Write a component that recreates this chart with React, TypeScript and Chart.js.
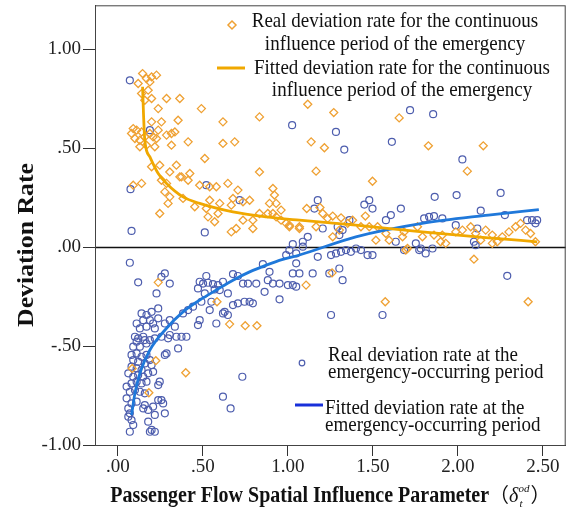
import React, { useEffect, useRef } from "react";
import { Chart, registerables } from "chart.js";

Chart.register(...registerables);

const xTicks = [0, 0.5, 1, 1.5, 2, 2.5];
const yTicks = [-1, -0.5, 0, 0.5, 1];

const orangeX = [
  0.145, 0.168, 0.198, 0.227, 0.119, 0.188, 0.139, 0.178, 0.198, 0.158, 0.286, 0.364, 0.237, 0.491, 0.354, 0.256,
  0.198, 0.618, 0.833, 0.09, 0.08, 0.11, 0.139, 0.1, 0.129, 0.158, 0.188, 0.207, 0.227, 0.237, 0.286, 0.315,
  0.335, 0.413, 0.315, 0.129, 0.168, 0.217, 0.618, 0.687, 0.511, 0.198, 0.246, 0.344, 0.305, 0.374, 0.423, 0.413,
  0.364, 0.256, 0.286, 0.09, 0.139, 0.481, 0.54, 0.579, 0.647, 0.706, 0.276, 0.305, 0.383, 0.295, 0.452, 0.54,
  0.52, 0.599, 0.667, 0.677, 0.736, 0.775, 0.833, 0.912, 0.921, 0.892, 0.833, 0.912, 0.96, 0.99, 0.53, 0.569,
  0.589, 0.246, 0.736, 0.667, 0.696, 0.794, 1.068, 0.794, 0.882, 0.931, 0.96, 1.009, 0.931,
  1.117, 1.27, 1.137, 1.215, 1.166, 1.655, 1.827, 2.15, 2.056, 1.498, 1.111, 1.189, 1.205, 1.234, 1.264, 1.313,
  1.381, 1.456, 1.43, 1.479, 1.528, 1.577, 1.596, 1.675, 1.694, 1.684, 1.763, 1.792, 1.86, 1.899, 1.909, 1.988,
  2.027, 2.076, 2.105, 2.135, 2.164, 2.203, 2.232, 2.262, 2.301, 2.34, 2.369, 2.399, 2.428, 2.457, 1.009, 1.068,
  1.166, 1.303, 1.352, 1.264, 1.518, 1.929, 2.203,
  2.095, 1.107, 1.26, 1.573, 2.414, 1.704,
  0.237, 0.583, 0.657, 0.749, 0.818, 0.223, 0.084, 0.399, 0.182,
];
const orangeY = [
  0.877, 0.852, 0.86, 0.869, 0.827, 0.835, 0.776, 0.793, 0.751, 0.742, 0.751, 0.751, 0.7, 0.7, 0.641, 0.633,
  0.633, 0.633, 0.658, 0.599, 0.574, 0.591, 0.582, 0.549, 0.54, 0.557, 0.574, 0.557, 0.549, 0.591, 0.566, 0.574,
  0.582, 0.532, 0.515, 0.507, 0.515, 0.507, 0.524, 0.532, 0.448, 0.406, 0.414, 0.414, 0.38, 0.355, 0.372, 0.338,
  0.355, 0.338, 0.322, 0.313, 0.322, 0.313, 0.305, 0.305, 0.322, 0.288, 0.279, 0.254, 0.246, 0.221, 0.204, 0.237,
  0.195, 0.221, 0.212, 0.246, 0.229, 0.237, 0.38, 0.296, 0.263, 0.221, 0.17, 0.17, 0.187, 0.12, 0.153, 0.128,
  0.17, 0.17, 0.136, 0.077, 0.094, 0.094, 0.103, 0.136, 0.17, 0.153, 0.136, 0.103, 0.221,
  0.722, 0.68, 0.532, 0.502, 0.384, 0.653, 0.512, 0.512, 0.384, 0.333, 0.195, 0.2, 0.17, 0.145, 0.157, 0.148,
  0.136, 0.157, 0.103, 0.103, 0.103, 0.069, 0.035, 0.052, -0.015, 0.077, 0.103, 0.052, 0.061, 0.027, 0.061, 0.077,
  0.086, 0.103, 0.069, 0.035, 0.086, 0.061, 0.027, 0.052, 0.077, 0.103, 0.12, 0.086, 0.069, 0.027, 0.111, 0.094,
  0.103, 0.086, 0.12, 0.052, 0.035, 0.019, 0.019,
  -0.061, -0.192, -0.13, -0.276, -0.276, -0.007,
  -0.178, -0.276, -0.389, -0.397, -0.397, -0.574, -0.613, -0.635, -0.736,
];

const blueX = [
  0.07, 0.119, 0.276, 0.256, 0.305, 0.227, 0.237, 0.139, 0.168, 0.198, 0.188, 0.149, 0.11, 0.207, 0.168, 0.237,
  0.129, 0.217, 0.276, 0.305, 0.335, 0.1, 0.119, 0.149, 0.11, 0.158, 0.188, 0.09, 0.129, 0.168, 0.217, 0.256,
  0.295, 0.305, 0.344, 0.374, 0.403, 0.354, 0.286, 0.276, 0.08, 0.11, 0.139, 0.168, 0.09, 0.119, 0.158, 0.188,
  0.198, 0.08, 0.11, 0.139, 0.061, 0.09, 0.119, 0.149, 0.178, 0.207, 0.246, 0.237, 0.08, 0.11, 0.139, 0.168,
  0.051, 0.07, 0.1, 0.129, 0.158, 0.237, 0.256, 0.266, 0.051, 0.08, 0.11, 0.149, 0.178, 0.207, 0.217, 0.158,
  0.061, 0.07, 0.08, 0.061, 0.09, 0.178, 0.198, 0.217, 0.188, 0.07, 0.276, 0.732, 0.618, 0.663,
  0.52, 0.481, 0.501, 0.53, 0.559, 0.589, 0.618, 0.677, 0.706, 0.736, 0.765, 0.814, 0.853, 0.892, 0.882, 0.912,
  0.951, 0.863, 1.0, 1.029, 1.029, 1.049, 1.009, 1.029, 0.471, 0.511, 0.569, 0.599, 0.647, 0.55, 0.491, 0.54,
  0.579, 0.481, 0.471, 0.442, 0.383, 0.413, 0.677, 0.706, 0.745, 0.775, 0.794, 0.628, 0.647, 0.618, 0.951,
  1.049, 1.088, 1.068, 1.049, 1.146, 1.254, 1.283, 1.313, 1.342, 1.371, 1.401, 1.43, 1.469, 1.498, 1.303, 1.244,
  1.322, 1.254, 1.557, 1.684, 1.782, 1.811, 1.851, 2.105, 2.291,
  1.025, 1.283, 1.332, 1.612, 1.719, 1.855, 2.027, 1.864, 1.993, 2.252, 2.135, 2.277, 1.176, 1.156, 1.45, 1.479,
  1.498, 1.665, 1.606, 1.577, 1.802, 1.831, 1.86, 1.909, 1.988, 2.115, 2.408, 2.437, 2.467, 2.457, 1.362, 1.293,
  1.303, 1.322, 1.117, 1.088, 1.205, 1.635, 1.753, 1.773, 2.095, 1.176,
  0.07, 0.188, 0.074, 0.52, 0.08, 0.511, 0.716, 0.99,
];
const blueY = [
  -0.079, -0.178, -0.133, -0.15, -0.184, -0.234, -0.31, -0.335, -0.343, -0.327, -0.369, -0.369, -0.386, -0.386, -0.402, -0.36,
  -0.411, -0.411, -0.386, -0.369, -0.402, -0.453, -0.461, -0.453, -0.478, -0.47, -0.47, -0.503, -0.503, -0.487, -0.461, -0.453,
  -0.461, -0.444, -0.453, -0.453, -0.453, -0.512, -0.537, -0.545, -0.545, -0.537, -0.554, -0.545, -0.571, -0.579, -0.588, -0.571,
  -0.596, -0.604, -0.613, -0.621, -0.638, -0.655, -0.646, -0.655, -0.638, -0.63, -0.68, -0.697, -0.689, -0.68, -0.689, -0.68,
  -0.705, -0.731, -0.722, -0.731, -0.739, -0.773, -0.773, -0.79, -0.764, -0.79, -0.781, -0.815, -0.823, -0.806, -0.848, -0.798,
  -0.815, -0.84, -0.874, -0.857, -0.899, -0.882, -0.924, -0.933, -0.933, -0.933, -0.84, -0.655, -0.756, -0.815,
  -0.146, -0.175, -0.184, -0.18, -0.187, -0.192, -0.175, -0.136, -0.146, -0.184, -0.184, -0.184, -0.086, -0.125, -0.167, -0.184,
  -0.184, -0.226, -0.192, -0.192, -0.133, -0.082, -0.015, 0.015, -0.209, -0.234, -0.214, -0.217, -0.234, -0.276, -0.276, -0.318,
  -0.386, -0.369, -0.394, -0.301, -0.335, -0.318, -0.293, -0.284, -0.276, -0.276, -0.284, -0.327, -0.343, -0.335, -0.264,
  -0.032, 0.002, -0.133, -0.2, -0.133, -0.04, -0.032, -0.024, -0.015, -0.024, -0.007, -0.015, -0.04, -0.04, -0.108, -0.133,
  -0.167, -0.343, -0.343, -0.015, -0.007, -0.032, -0.007, 0.01, -0.145,
  0.616, 0.582, 0.493, 0.532, 0.692, 0.672, 0.443, 0.254, 0.263, 0.274, 0.184, 0.162, 0.237, 0.195, 0.215, 0.237,
  0.195, 0.195, 0.162, 0.136, 0.145, 0.153, 0.157, 0.145, 0.111, 0.094, 0.136, 0.136, 0.136, 0.12, 0.136, 0.103,
  0.061, 0.086, 0.052, 0.027, 0.094, 0.027, 0.019, -0.015, 0.027, -0.049,
  0.843, 0.591, 0.293, 0.313, 0.082, 0.074, 0.237, -0.04,
];

const fitOrangeX = [0.145, 0.151, 0.158, 0.188, 0.237, 0.286, 0.383, 0.481, 0.677, 0.872, 1.068, 1.4, 1.79, 2.18, 2.467];
const fitOrangeY = [0.81, 0.66, 0.54, 0.456, 0.372, 0.322, 0.254, 0.221, 0.178, 0.153, 0.136, 0.111, 0.077, 0.047, 0.027];

const fitBlueX = [0.08, 0.1, 0.129, 0.188, 0.286, 0.383, 0.481, 0.579, 0.677, 0.775, 0.873, 0.97, 1.068, 1.4, 1.79, 2.18, 2.477];
const fitBlueY = [-0.848, -0.739, -0.638, -0.52, -0.41, -0.327, -0.268, -0.217, -0.167, -0.125, -0.091, -0.062, -0.04, 0.052, 0.12, 0.162, 0.19];

const legendTop = [
  "Real deviation rate for the continuous",
  "influence period of the emergency",
  "Fitted deviation rate for the continuous",
  "influence period of the emergency",
];
const legendBottom = [
  "Real deviation rate at the",
  "emergency-occurring period",
  "Fitted deviation rate at the",
  "emergency-occurring period",
];
const xTitle = "Passenger Flow Spatial Influence Parameter";
const yTitle = "Deviation Rate";

const ORANGE_PT = "#EFA133";
const ORANGE_FIT = "#F0A800";
const BLUE_PT = "#4E5EAE";
const BLUE_FIT = "#1F78DA";
const BLUE_LEG = "#1830DA";
const SERIF = '"Liberation Serif", "Times New Roman", serif';

const fmt = (v: number) => v.toFixed(2).replace(/^(-?)0\./, "$1.");
const zip = (xs: number[], ys: number[]) => xs.map((x, i) => ({ x, y: ys[i] }));

function txt(ctx: CanvasRenderingContext2D, s: string, x: number, y: number, font: string, align: CanvasTextAlign, sy = 1.08) {
  ctx.save();
  ctx.font = font;
  ctx.textAlign = align;
  ctx.textBaseline = "alphabetic";
  ctx.fillStyle = "#111";
  ctx.translate(x, y);
  ctx.scale(1, sy);
  ctx.fillText(s, 0, 0);
  ctx.restore();
}

const deco = {
  id: "deco",
  beforeDatasetsDraw(chart: any) {
    const { ctx, chartArea: a, scales } = chart;
    ctx.save();
    const y0 = Math.round(scales.y.getPixelForValue(0)) + 0.5;
    ctx.strokeStyle = "#111";
    ctx.lineWidth = 1.3;
    ctx.beginPath();
    ctx.moveTo(a.left, y0);
    ctx.lineTo(a.right, y0);
    ctx.stroke();
    ctx.restore();
  },
  afterDraw(chart: any) {
    const { ctx, chartArea: a } = chart;
    ctx.save();
    ctx.strokeStyle = "#444";
    ctx.lineWidth = 1;
    ctx.strokeRect(a.left + 0.5, a.top + 0.5, a.right - a.left - 1, a.bottom - a.top);

    // top legend
    ctx.strokeStyle = ORANGE_PT;
    ctx.lineWidth = 1.5;
    ctx.beginPath();
    ctx.moveTo(232, 21);
    ctx.lineTo(236, 25);
    ctx.lineTo(232, 29);
    ctx.lineTo(228, 25);
    ctx.closePath();
    ctx.stroke();
    ctx.strokeStyle = ORANGE_FIT;
    ctx.lineWidth = 3;
    ctx.beginPath();
    ctx.moveTo(217, 68);
    ctx.lineTo(245, 68);
    ctx.stroke();
    const f19 = `19px ${SERIF}`;
    txt(ctx, legendTop[0], 395, 27, f19, "center");
    txt(ctx, legendTop[1], 395, 50, f19, "center");
    txt(ctx, legendTop[2], 402, 74, f19, "center");
    txt(ctx, legendTop[3], 402, 96, f19, "center");

    // bottom legend
    ctx.strokeStyle = BLUE_PT;
    ctx.lineWidth = 1.2;
    ctx.beginPath();
    ctx.arc(302, 363, 2.8, 0, Math.PI * 2);
    ctx.stroke();
    ctx.strokeStyle = BLUE_LEG;
    ctx.lineWidth = 3;
    ctx.beginPath();
    ctx.moveTo(295, 405);
    ctx.lineTo(323, 405);
    ctx.stroke();
    txt(ctx, legendBottom[0], 328, 361, f19, "left");
    txt(ctx, legendBottom[1], 328, 378, f19, "left");
    txt(ctx, legendBottom[2], 325, 414, f19, "left");
    txt(ctx, legendBottom[3], 325, 431, f19, "left");

    // x title
    const fb = `bold 20px ${SERIF}`;
    const fp = `20px "Noto Sans CJK SC", sans-serif`;
    const fd = `italic 20px ${SERIF}`;
    const fs = `italic 11px ${SERIF}`;
    ctx.font = fb;
    const w1 = ctx.measureText(xTitle).width;
    ctx.font = fp;
    const wp = ctx.measureText("（").width;
    ctx.font = fd;
    const wd = ctx.measureText("δ").width;
    ctx.font = fs;
    const ws = ctx.measureText("od").width + 1;
    const total = w1 + wp + wd + ws + wp;
    const cx = (a.left + a.right) / 2;
    let x = cx - total / 2;
    const by = 502;
    txt(ctx, xTitle, x, by, fb, "left", 1.12);
    x += w1;
    txt(ctx, "（", x, by, fp, "left", 1.0);
    x += wp;
    txt(ctx, "δ", x, by, fd, "left", 1.05);
    x += wd;
    txt(ctx, "od", x, by - 10, fs, "left", 1.0);
    txt(ctx, "t", x + 1, by + 5, fs, "left", 1.0);
    x += ws;
    txt(ctx, "）", x, by, fp, "left", 1.0);

    // y title
    ctx.save();
    ctx.translate(33, 245);
    ctx.rotate(-Math.PI / 2);
    ctx.scale(1.12, 1);
    ctx.font = `bold 23px ${SERIF}`;
    ctx.textAlign = "center";
    ctx.textBaseline = "alphabetic";
    ctx.fillStyle = "#111";
    ctx.fillText(yTitle, 0, 0);
    ctx.restore();

    ctx.restore();
  },
};

export default function App() {
  const ref = useRef<HTMLCanvasElement | null>(null);
  useEffect(() => {
    if (!ref.current) return;
    const chart = new Chart(ref.current, {
      type: "scatter",
      data: {
        datasets: [
          {
            label: "Fitted continuous",
            data: zip(fitOrangeX, fitOrangeY),
            showLine: true,
            borderColor: ORANGE_FIT,
            borderWidth: 2.8,
            pointRadius: 0,
            cubicInterpolationMode: "monotone",
            order: 0,
          } as any,
          {
            label: "Fitted occurring",
            data: zip(fitBlueX, fitBlueY),
            showLine: true,
            borderColor: BLUE_FIT,
            borderWidth: 2.8,
            pointRadius: 0,
            cubicInterpolationMode: "monotone",
            order: 1,
          } as any,
          {
            label: "Real continuous",
            data: zip(orangeX, orangeY),
            pointStyle: "rectRot",
            pointRadius: 4,
            borderColor: ORANGE_PT,
            backgroundColor: "rgba(255,255,255,0)",
            borderWidth: 1.3,
            order: 2,
          },
          {
            label: "Real occurring",
            data: zip(blueX, blueY),
            pointStyle: "circle",
            pointRadius: 3.5,
            borderColor: BLUE_PT,
            backgroundColor: "rgba(255,255,255,0)",
            borderWidth: 1.2,
            order: 3,
          },
        ],
      },
      options: {
        animation: false,
        responsive: false,
        devicePixelRatio: 1,
        layout: { padding: { left: 0, top: 5, right: 4, bottom: 0 } },
        plugins: { legend: { display: false }, tooltip: { enabled: false } },
        events: [],
        scales: {
          x: {
            type: "linear",
            min: -0.135,
            max: 2.635,
            afterBuildTicks: (s: any) => {
              s.ticks = xTicks.map((v) => ({ value: v }));
            },
            afterFit: (s: any) => {
              s.height = 71;
              s.paddingLeft = 0;
              s.paddingRight = 0;
              s.paddingTop = 0;
              s.paddingBottom = 0;
            },
            ticks: {
              callback: (v: any) => fmt(Number(v)),
              font: { family: SERIF, size: 19 },
              color: "#222",
              padding: 0,
              maxRotation: 0,
              autoSkip: false,
            },
            grid: { drawOnChartArea: false, drawTicks: true, tickLength: 11, color: "#333" },
            border: { display: true, color: "#333" },
          },
          y: {
            type: "linear",
            min: -1,
            max: 1.222,
            afterBuildTicks: (s: any) => {
              s.ticks = yTicks.map((v) => ({ value: v }));
            },
            afterFit: (s: any) => {
              s.width = 95;
              s.paddingLeft = 0;
              s.paddingRight = 0;
              s.paddingTop = 0;
              s.paddingBottom = 0;
            },
            ticks: {
              callback: (v: any) => fmt(Number(v)),
              font: { family: SERIF, size: 19 },
              color: "#222",
              padding: 2,
              autoSkip: false,
            },
            grid: { drawOnChartArea: false, drawTicks: true, tickLength: 12, color: "#333" },
            border: { display: true, color: "#333" },
          },
        },
      },
      plugins: [deco],
    });
    return () => chart.destroy();
  }, []);
  return (
    <div style={{ position: "absolute", left: 0, top: 0, width: 571, height: 516, background: "#fff" }}>
      <canvas ref={ref} width={571} height={516} style={{ display: "block" }} />
    </div>
  );
}
